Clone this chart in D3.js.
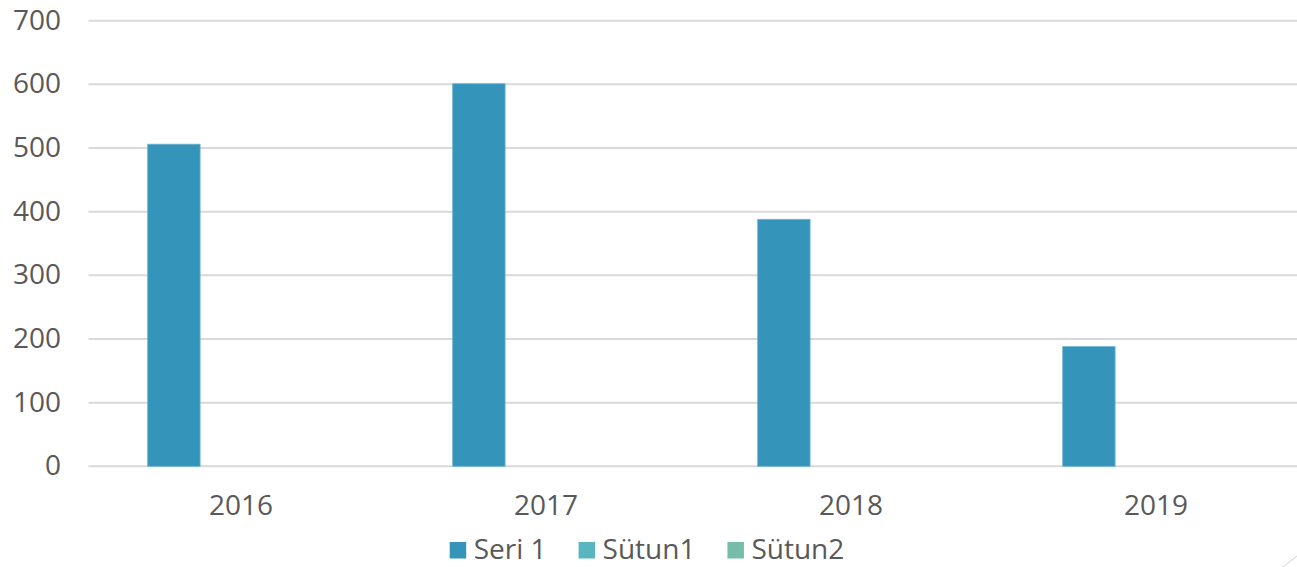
<!DOCTYPE html>
<html>
  <head>
    <meta charset="utf-8" />
    <title>bar chart</title>
    <script src="https://d3js.org/d3.v7.min.js"></script>
    <style>
      body {
        margin: 0;
        background: #fff;
      }
      text {
        font-family: "Open Sans", "Noto Sans", sans-serif;
        fill: #595959;
      }
    </style>
  </head>
  <body>

    <svg id="chart"></svg>

    <script>

      // chart data
      var years = ["2016", "2017", "2018", "2019"];
      var seriesNames = ["Seri 1", "Sütun1", "Sütun2"];
      var seri1 = [506, 601, 388, 188];
      var sutun1 = [null, null, null, null];
      var sutun2 = [null, null, null, null];
      var yTicks = [0, 100, 200, 300, 400, 500, 600, 700];
      var colors = ["#3494BA", "#58B6C0", "#75BDA7"];

      var width = 1297;
      var height = 567;
      var margin = {top: 20.7, right: -11.5, bottom: 100.7, left: 88.5};

      var svg = d3.select("#chart")
        .attr("width", width)
        .attr("height", height);

      var x = d3.scaleBand()
        .domain(years)
        .range([margin.left, width - margin.right])
        .padding(0);

      var xInner = d3.scaleBand()
        .domain(seriesNames)
        .range([0, x.bandwidth()])
        .paddingInner(0.219)
        .paddingOuter(0.882);

      var y = d3.scaleLinear()
        .domain([0, 700])
        .range([height - margin.bottom, margin.top]);

      // gridlines
      svg.append("g")
        .selectAll("line")
        .data(yTicks)
        .enter().append("line")
        .attr("x1", margin.left)
        .attr("x2", width - margin.right)
        .attr("y1", function(d) { return y(d); })
        .attr("y2", function(d) { return y(d); })
        .attr("stroke", "#D9D9D9")
        .attr("stroke-width", 2);

      // y axis labels
      var yAxis = d3.axisLeft(y).tickValues(yTicks).tickSize(0).tickPadding(0);
      var gy = svg.append("g")
        .attr("transform", "translate(61,0)")
        .call(yAxis);
      gy.select(".domain").remove();
      gy.selectAll("text")
        .attr("font-size", "28px")
        .attr("font-family", null)
        .attr("fill", "#595959")
        .attr("dy", "0.3em");

      // x axis labels
      var xAxis = d3.axisBottom(x).tickSize(0).tickPadding(0);
      var gx = svg.append("g")
        .attr("transform", "translate(0," + y(0) + ")")
        .call(xAxis);
      gx.select(".domain").remove();
      gx.selectAll("text")
        .attr("font-size", "28px")
        .attr("font-family", null)
        .attr("fill", "#595959")
        .attr("y", 49)
        .attr("dy", 0);

      // bars
      var seriesData = [seri1, sutun1, sutun2];
      seriesData.forEach(function(values, s) {
        svg.append("g")
          .selectAll("rect")
          .data(values.map(function(v, i) { return {year: years[i], value: v}; })
            .filter(function(d) { return d.value != null; }))
          .enter().append("rect")
          .attr("x", function(d) { return x(d.year) + xInner(seriesNames[s]); })
          .attr("width", xInner.bandwidth())
          .attr("y", function(d) { return y(d.value); })
          .attr("height", function(d) { return y(0) - y(d.value); })
          .attr("fill", colors[s])
          .attr("stroke", "#6fb3cf")
          .attr("stroke-width", 0.8);
      });

      // legend
      var legend = svg.append("g");
      var items = legend.selectAll("g")
        .data(seriesNames)
        .enter().append("g");
      items.append("rect")
        .attr("width", 16.5)
        .attr("height", 16.5)
        .attr("y", 542)
        .attr("fill", function(d, i) { return colors[i]; });
      items.append("text")
        .attr("x", 24)
        .attr("y", 559)
        .attr("font-size", "28px")
        .text(function(d) { return d; });

      var pos = 0;
      var offsets = [];
      items.each(function() {
        var w = 24 + d3.select(this).select("text").node().getComputedTextLength();
        offsets.push(pos);
        pos += w + 32;
      });
      var total = pos - 32;
      var startX = 647 - total / 2;
      items.attr("transform", function(d, i) {
        return "translate(" + (startX + offsets[i]) + ",0)";
      });

      // chart frame corner handle
      svg.append("line")
        .attr("x1", 1283).attr("y1", 567)
        .attr("x2", 1297).attr("y2", 556)
        .attr("stroke", "#d0d0d0")
        .attr("stroke-width", 1);

    </script>

  </body>
</html>
